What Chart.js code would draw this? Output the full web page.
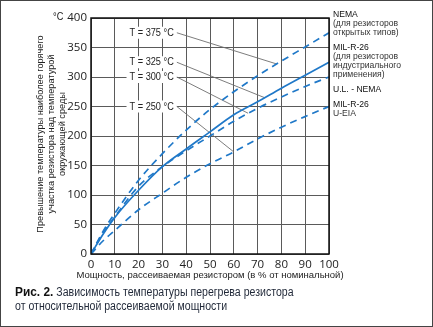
<!DOCTYPE html>
<html>
<head>
<meta charset="utf-8">
<script src="https://cdn.jsdelivr.net/npm/chart.js@4/dist/chart.umd.min.js"></script>
<style>
  html, body { margin: 0; padding: 0; background: #fff; }
  #wrap { width: 433px; height: 327px; }
</style>
</head>
<body>
<div id="wrap"><canvas id="c" width="433" height="327"></canvas></div>
<script>
// Percent of rated power dissipated by the resistor
const powerPct = [0, 5, 10, 20, 30, 40, 50, 60, 70, 80, 90, 100];
// Hot-spot temperature rise above ambient, °C
const nemaOpen = [0, 38, 69, 125, 170, 210, 245, 275, 302, 327, 351, 375];
const milR26Industrial = [0, 33, 62, 108, 148, 178, 207, 236, 258, 281, 303, 325];
const ulNema = [0, 35, 63, 115, 148, 175, 200, 225, 247, 266, 284, 300];
const milR26Eia = [0, 22, 40, 75, 103, 130, 153, 173, 195, 215, 233, 250];

// Callout labels and the point (percent) on each curve they point to
const calloutText = ['T = 375 °C', 'T = 325 °C', 'T = 300 °C', 'T = 250 °C'];
const calloutLevel = [375, 325, 300, 250];
const calloutTargetPct = [78, 73, 66, 60];
const calloutSeries = [0, 1, 2, 3];

// Curve names shown at the right edge
const seriesNotes = [
  ['NEMA', '(для резисторов', 'открытых типов)'],
  ['MIL-R-26', '(для резисторов', 'индустриального', 'применения)'],
  ['U.L. - NEMA'],
  ['MIL-R-26', 'U-EIA']
];
const seriesNoteTop = [15, 47.5, 89.5, 105];

const BLUE = '#1f78c8';
const SANS = "'Liberation Sans', 'DejaVu Sans', sans-serif";

// A condensed face (if one is installed) for the axis numbers
const condensed = (function () {
  const ctx = document.createElement('canvas').getContext('2d');
  const sample = 'Зависимость 0123456789';
  const width = (f) => { ctx.font = f; return ctx.measureText(sample).width; };
  const base = width("20px 'Liberation Sans', monospace");
  for (const fam of ["'Noto Sans'", "'Open Sans'", "'DejaVu Sans'"]) {
    const a = width('condensed 20px ' + fam + ', monospace');
    const b = width('condensed 20px ' + fam + ', serif');
    if (Math.abs(a - b) < 0.01 && a < base * 0.9) return fam + ', sans-serif';
  }
  return null;
})();

const tickFont = condensed
  ? { style: 'condensed', family: condensed, size: 11.5 }
  : { family: SANS, size: 10.5 };

// narrow text: Liberation Sans drawn with a horizontal squeeze
function narrowText(ctx, txt, x, y, sx) {
  const w = ctx.measureText(txt).width * sx;
  ctx.save();
  ctx.translate(x, y);
  ctx.scale(sx, 1);
  ctx.textAlign = 'left';
  ctx.fillText(txt, 0, 0);
  ctx.restore();
  return w;
}

function series(label, values, dashed) {
  return {
    label,
    data: powerPct.map((p, i) => ({ x: p, y: values[i] })),
    borderColor: BLUE,
    borderWidth: 1.7,
    borderDash: dashed ? [7, 5] : [],
    pointRadius: 0,
    fill: false,
    cubicInterpolationMode: 'monotone'
  };
}

const CALLOUT_SX = 0.8;
const CAPTION_SX = 0.88;

const decorations = {
  id: 'decorations',
  beforeDatasetsDraw(chart) {
    const { ctx } = chart;
    const xs = chart.scales.x, ys = chart.scales.y;
    ctx.save();
    ctx.font = '11.5px ' + SANS;
    ctx.textBaseline = 'middle';
    calloutText.forEach((txt, i) => {
      const w = ctx.measureText(txt).width * CALLOUT_SX;
      const cx = xs.getPixelForValue(25.5);
      const cy = ys.getPixelForValue(calloutLevel[i]);
      const left = cx - w / 2;
      // white backing over the grid
      ctx.fillStyle = '#fff';
      ctx.fillRect(left - 3, cy - 6, w + 6, 12);
      ctx.fillStyle = '#222';
      narrowText(ctx, txt, left, cy, CALLOUT_SX);
      // leader line to the curve
      const meta = chart.getDatasetMeta(calloutSeries[i]);
      const px = xs.getPixelForValue(calloutTargetPct[i]);
      const pt = meta.dataset.interpolate({ x: px }, 'x');
      ctx.strokeStyle = '#6e6e6e';
      ctx.lineWidth = 0.9;
      ctx.beginPath();
      ctx.moveTo(left + w + 3, cy);
      ctx.lineTo(pt.x, pt.y);
      ctx.stroke();
    });
    ctx.restore();
  },
  afterDatasetsDraw(chart) {
    const { ctx, chartArea: a } = chart;
    ctx.save();
    ctx.strokeStyle = '#111';
    ctx.lineWidth = 1.5;
    ctx.strokeRect(a.left, a.top, a.right - a.left, a.bottom - a.top);
    ctx.restore();
  },
  afterDraw(chart) {
    const { ctx, chartArea: a } = chart;
    ctx.save();
    ctx.fillStyle = '#222';
    ctx.textBaseline = 'middle';

    // unit above the y axis
    ctx.font = '11.5px ' + SANS;
    narrowText(ctx, '°C', 53, 17, CALLOUT_SX);

    // y axis title, three rotated lines
    const yTitle = ['Превышение температуры наиболее горячего',
                    'участка резистора над температурой',
                    'окружающей среды'];
    const colX = [40, 51, 62];
    ctx.font = '9.2px ' + SANS;
    ctx.textAlign = 'center';
    yTitle.forEach((t, i) => {
      ctx.save();
      ctx.translate(colX[i], 134);
      ctx.rotate(-Math.PI / 2);
      ctx.fillText(t, 0, 0);
      ctx.restore();
    });

    // x axis title
    ctx.font = '9.5px ' + SANS;
    ctx.fillText('Мощность, рассеиваемая резистором (в % от номинальной)', (a.left + a.right) / 2, 275.5);

    // curve names on the right
    ctx.font = '8.6px ' + SANS;
    ctx.textAlign = 'left';
    seriesNotes.forEach((lines, i) => {
      lines.forEach((t, j) => {
        ctx.fillStyle = j === 0 ? '#111' : '#333';
        ctx.fillText(t, 333, seriesNoteTop[i] + j * 9);
      });
    });

    // figure caption
    ctx.font = 'bold 12.5px ' + SANS;
    ctx.fillStyle = '#111';
    const fw = narrowText(ctx, 'Рис. 2.', 15, 293, 0.95);
    ctx.font = '12px ' + SANS;
    ctx.fillStyle = '#1f2737';
    narrowText(ctx, 'Зависимость температуры перегрева резистора', 15 + fw + 3, 293, CAPTION_SX);
    narrowText(ctx, 'от относительной рассеиваемой мощности', 15, 307, CAPTION_SX);

    // outer frame
    ctx.strokeStyle = '#444';
    ctx.lineWidth = 1;
    ctx.strokeRect(0.5, 0.5, chart.width - 1, chart.height - 1);
    ctx.restore();
  }
};

new Chart(document.getElementById('c'), {
  type: 'line',
  data: {
    datasets: [
      series('NEMA', nemaOpen, true),
      series('MIL-R-26', milR26Industrial, false),
      series('U.L. - NEMA', ulNema, true),
      series('MIL-R-26 U-EIA', milR26Eia, true)
    ]
  },
  options: {
    responsive: false,
    animation: false,
    devicePixelRatio: 1,
    layout: { padding: { top: 18, right: 104, left: 0, bottom: 0 } },
    plugins: { legend: { display: false }, tooltip: { enabled: false } },
    scales: {
      x: {
        type: 'linear', min: 0, max: 100,
        ticks: { stepSize: 10, padding: 4, color: '#222', maxRotation: 0, font: tickFont },
        grid: { color: '#5a5a5a', lineWidth: 1, drawTicks: false },
        border: { display: false },
        afterFit(s) { s.height = 73; }
      },
      y: {
        type: 'linear', min: 0, max: 400,
        ticks: { stepSize: 50, padding: 4, color: '#222', font: tickFont },
        grid: { color: '#5a5a5a', lineWidth: 1, drawTicks: false },
        border: { display: false },
        afterFit(s) { s.width = 91; }
      }
    }
  },
  plugins: [decorations]
});
</script>
</body>
</html>
